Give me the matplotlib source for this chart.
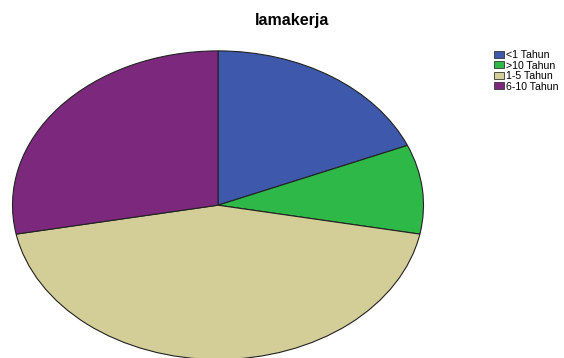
import matplotlib
matplotlib.use("Agg")
import matplotlib.pyplot as plt
from matplotlib.patches import Patch

# lama kerja responden (jumlah orang)
kategori = ["<1 Tahun", ">10 Tahun", "1-5 Tahun", "6-10 Tahun"]
jumlah = [14, 7, 33, 21]
warna = ["#3E58AC", "#2EB848", "#D3CE97", "#7C287D"]

plt.rcParams["font.family"] = ["Liberation Sans", "DejaVu Sans"]

fig = plt.figure(figsize=(5.64, 3.58), dpi=100)
ax = fig.add_axes([12.5 / 564, 1 - 359.5 / 358, 411 / 564, 308.6 / 358])

ax.pie(jumlah, colors=warna, startangle=90, counterclock=False,
       wedgeprops=dict(edgecolor="#222222", linewidth=0.8))
ax.set_aspect("auto")
ax.set_xlim(-1, 1)
ax.set_ylim(-1, 1)
ax.axis("off")

fig.text(292 / 564, 1 - 21 / 358, "lamakerja", ha="center", va="center",
         fontsize=11.5, fontweight="bold")

handles = [Patch(facecolor=c, edgecolor="#333333", linewidth=0.6) for c in warna]
fig.legend(handles, kategori, loc="upper left",
           bbox_to_anchor=(494 / 564, 1 - 50 / 358), frameon=False,
           fontsize=7.6, handlelength=0.9, handleheight=0.65,
           handletextpad=0.2, labelspacing=0.05, borderpad=0, borderaxespad=0)

plt.savefig("out.png", dpi=100)
plt.close()
